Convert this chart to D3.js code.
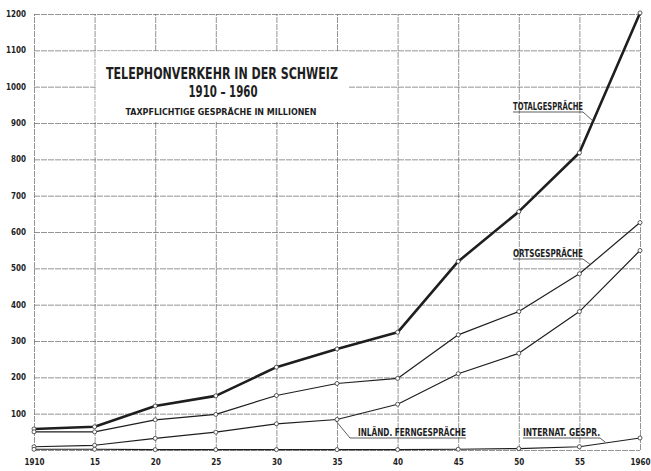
<!DOCTYPE html>
<html>
<head>
<meta charset="utf-8">
<script src="https://cdn.jsdelivr.net/npm/d3@7"></script>
<style>
  body { margin: 0; background: #fff; }
  svg text { font-family: "DejaVu Sans Condensed", "DejaVu Sans", sans-serif; font-weight: bold; fill: #1e1e1e; }
</style>
</head>
<body>
<svg class="chart" width="651" height="471"></svg>
<script>
// Telephonverkehr in der Schweiz, Mio. Gespräche
let years = [1910, 1915, 1920, 1925, 1930, 1935, 1940, 1945, 1950, 1955, 1960];
let total = [58, 64, 121, 149, 228, 278, 324, 519, 656, 818, 1203];
let orts = [50, 50, 83, 98, 150, 183, 197, 317, 381, 485, 626];
let inland = [9, 13, 32, 49, 72, 84, 126, 210, 266, 381, 549];
let internat = [2, 2, 1, 1, 1, 1, 1, 2, 4, 9, 33];
let yTicks = [0, 100, 200, 300, 400, 500, 600, 700, 800, 900, 1000, 1100, 1200];

let margin = { top: 14, right: 11, bottom: 21, left: 34 };
let svg = d3.select(".chart");
let width = 651 - margin.left - margin.right;
let height = 471 - margin.top - margin.bottom;

let g = svg.append("g")
  .attr("transform", translate(margin.left, margin.top));

let x = d3.scaleLinear().domain([1910, 1960]).range([0, width]);
let y = d3.scaleLinear().domain([0, 1200]).range([height, 0]);

// grid via axes
let yAxis = g.append("g")
  .call(d3.axisLeft(y).tickValues(yTicks).tickSize(-width).tickPadding(8)
    .tickFormat(function(d) { return d == 0 ? "" : d; }));
let xAxis = g.append("g")
  .attr("transform", translate(0, height))
  .call(d3.axisBottom(x).tickValues(years).tickSize(-height).tickPadding(9)
    .tickFormat(function(d) { return (d == 1910 || d == 1960) ? d : String(d).slice(2); }));

[yAxis, xAxis].forEach(function(a) {
  a.select(".domain").remove();
  a.selectAll("line").attr("stroke", "#666").attr("stroke-width", 0.7).attr("stroke-dasharray", "6,1");
  a.selectAll("text").style("font-size", "8px").attr("fill", "#1e1e1e");
});

// title box covers the grid
g.append("rect")
  .attr("x", x(1915) + 1).attr("y", y(1100) + 1)
  .attr("width", 349 - margin.left - x(1915) - 1)
  .attr("height", y(900) - y(1100) - 2)
  .attr("fill", "#fff");

function titleText(str, cx, cy, size, len) {
  svg.append("text")
    .attr("x", cx).attr("y", cy)
    .attr("text-anchor", "middle")
    .attr("textLength", len).attr("lengthAdjust", "spacingAndGlyphs")
    .style("font-size", size + "px")
    .text(str);
}
titleText("TELEPHONVERKEHR IN DER SCHWEIZ", 222, 79, 15, 232);
titleText("1910 – 1960", 223, 97, 16, 69);
titleText("TAXPFLICHTIGE GESPRÄCHE IN MILLIONEN", 221, 115, 9.5, 191);

// series
let series = [
  { name: "total", values: total, width: 2.6 },
  { name: "orts", values: orts, width: 1.2 },
  { name: "inland", values: inland, width: 1.2 },
  { name: "internat", values: internat, width: 1.2 }
];

let line = d3.line()
  .x(function(d, i) { return x(years[i]); })
  .y(function(d) { return y(d); });

series.forEach(function(s) {
  g.append("path")
    .datum(s.values)
    .attr("d", line)
    .attr("fill", "none")
    .attr("stroke", "#1e1e1e")
    .attr("stroke-linejoin", "round")
    .attr("stroke-width", s.width);
  g.selectAll(".pt-" + s.name)
    .data(s.values)
    .enter().append("circle")
    .attr("cx", function(d, i) { return x(years[i]); })
    .attr("cy", function(d) { return y(d); })
    .attr("r", 2)
    .attr("fill", "#fff")
    .attr("stroke", "#333")
    .attr("stroke-width", 0.8);
});

// labels with leader lines (positions in page px)
let labels = [
  { text: "TOTALGESPRÄCHE", x0: 513, x1: 583, base: 109.5, lead: [[583, 112], [593, 121]] },
  { text: "ORTSGESPRÄCHE", x0: 513, x1: 583, base: 256.5, lead: [[583, 259], [591, 265]] },
  { text: "INLÄND. FERNGESPRÄCHE", x0: 358, x1: 466, base: 435.5, lead: [[350, 438], [336, 421]], ux0: 350 },
  { text: "INTERNAT. GESPR.", x0: 523, x1: 600, base: 435.5, lead: [[600, 438], [605, 442]] }
];
labels.forEach(function(l) {
  svg.append("text")
    .attr("x", l.x0).attr("y", l.base)
    .attr("textLength", l.x1 - l.x0).attr("lengthAdjust", "spacingAndGlyphs")
    .style("font-size", "10px")
    .text(l.text);
  svg.append("path")
    .attr("d", d3.line()([[l.ux0 || l.x0, l.lead[0][1]], [l.x1, l.lead[0][1]]]))
    .attr("stroke", "#333").attr("stroke-width", 0.8).attr("fill", "none");
  svg.append("path")
    .attr("d", d3.line()(l.lead))
    .attr("stroke", "#333").attr("stroke-width", 0.8).attr("fill", "none");
});

function translate(x, y) {
  return "translate(" + x + "," + y + ")";
}
</script>
</body>
</html>
